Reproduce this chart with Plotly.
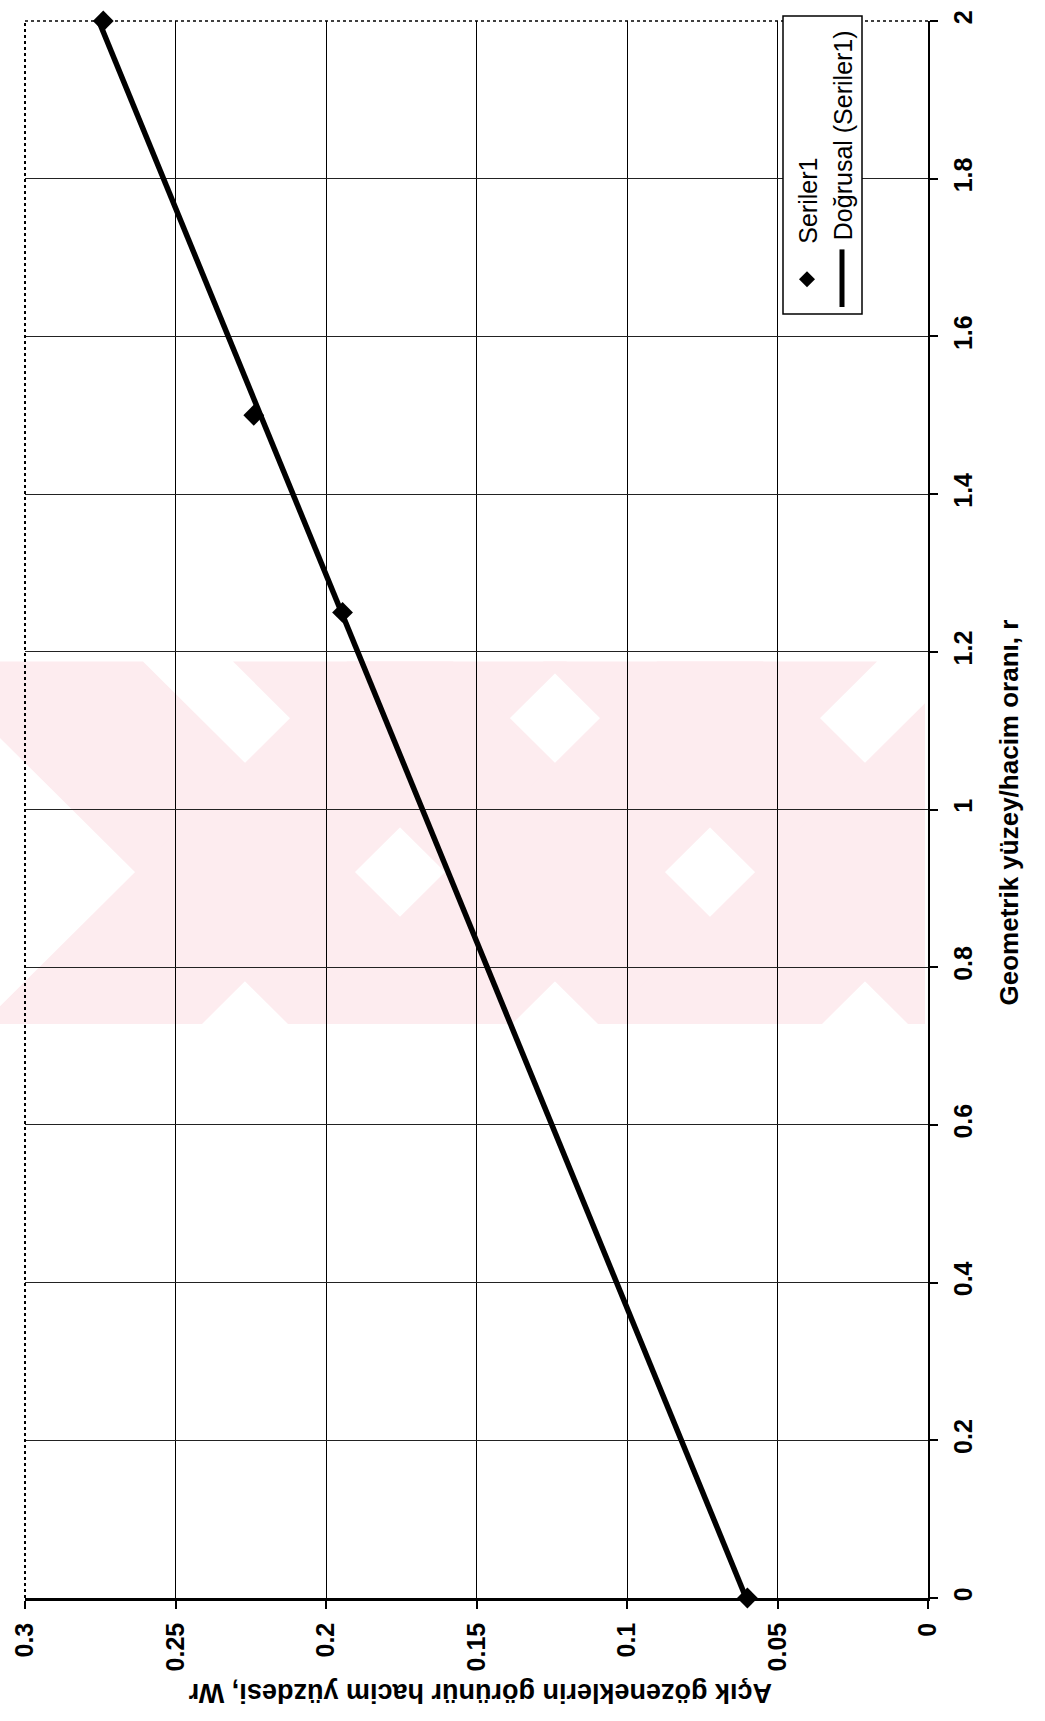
import numpy as np
import plotly.graph_objects as go

# ---- data ----
r_values = [0.0, 1.25, 1.5, 2.0]          # Geometrik yüzey/hacim oranı, r
wr_values = [0.060, 0.1945, 0.224, 0.274]  # Açık gözeneklerin görünür hacim yüzdesi, Wr
wr_tickvals = [0, 0.05, 0.1, 0.15, 0.2, 0.25, 0.3]
wr_ticktext = ["0", "0.05", "0.1", "0.15", "0.2", "0.25", "0.3"]
r_tickvals = [0, 0.2, 0.4, 0.6, 0.8, 1.0, 1.2, 1.4, 1.6, 1.8, 2.0]
r_ticktext = ["0", "0.2", "0.4", "0.6", "0.8", "1", "1.2", "1.4", "1.6", "1.8", "2"]
series_name = "Seriler1"
trend_name = "Doğrusal (Seriler1)"
x_title = "Açık gözeneklerin görünür hacim yüzdesi, Wr"
y_title = "Geometrik yüzey/hacim oranı, r"

# ---- layout geometry (page pixels; body margin removed by post_script) ----
W, H = 1045, 1721
L, R, T, B = 25, 928, 10, 1598


def px(X):
    return (X - L) / (R - L)


def py(Y):
    return (B - Y) / (B - T)


# linear trend (Excel "Doğrusal")
slope, intercept = np.polyfit(r_values, wr_values, 1)
r_line = np.array([min(r_values), max(r_values)])
wr_line = slope * r_line + intercept

fig = go.Figure()
fig.add_trace(go.Scatter(x=wr_line, y=r_line, mode="lines",
                         line=dict(color="black", width=5.5), name=trend_name,
                         showlegend=False, cliponaxis=False))
fig.add_trace(go.Scatter(x=wr_values, y=r_values, mode="markers",
                         marker=dict(symbol="diamond", size=16, color="black"),
                         name=series_name, showlegend=False, cliponaxis=False))

shapes = []

# ---- pale watermark (decorative) ----
PINK = "#fdecef"
band_top, band_bot = 655, 1020
cy, h = 867, 110
centers = [245, 555, 865]
clip_right = 925


def clip_poly(pts, xmax):
    out = []
    n = len(pts)
    for i in range(n):
        a = pts[i]
        b = pts[(i + 1) % n]
        ina = a[0] <= xmax
        inb = b[0] <= xmax
        if ina:
            out.append(a)
        if ina != inb:
            t = (xmax - a[0]) / (b[0] - a[0])
            out.append((xmax, a[1] + t * (b[1] - a[1])))
    return out


for cx in centers:
    dt = band_top - cy
    db = band_bot - cy
    back = [(cx + dt - h, band_top), (cx + dt + h, band_top),
            (cx + db + h, band_bot), (cx + db - h, band_bot)]
    fwd = [(cx - dt - h, band_top), (cx - dt + h, band_top),
           (cx - db + h, band_bot), (cx - db - h, band_bot)]
    for poly in (back, fwd):
        cp = clip_poly(poly, clip_right)
        if len(cp) < 3:
            continue
        path = "M " + " L ".join(f"{px(x):.5f},{py(y):.5f}" for x, y in cp) + " Z"
        shapes.append(dict(type="path", xref="paper", yref="paper", path=path,
                           fillcolor=PINK, line=dict(width=0), layer="below"))

# plot borders (dotted left & top)
shapes.append(dict(type="line", xref="paper", yref="paper", x0=0, x1=0, y0=0, y1=1,
                   line=dict(color="black", width=2, dash="dot")))
shapes.append(dict(type="line", xref="paper", yref="paper", x0=0, x1=1, y0=1, y1=1,
                   line=dict(color="black", width=1.5, dash="dot")))

# legend box
lx0, lx1, ly0, ly1 = 783, 862, 5, 305
shapes.append(dict(type="rect", xref="paper", yref="paper",
                   x0=px(lx0), x1=px(lx1), y0=py(ly1), y1=py(ly0),
                   fillcolor="white", line=dict(color="black", width=1.5)))
# legend marker diamond
dcx, dcy, ds = 807, 270, 8
shapes.append(dict(type="path", xref="paper", yref="paper",
                   path=(f"M {px(dcx):.5f},{py(dcy - ds):.5f} L {px(dcx + ds):.5f},{py(dcy):.5f} "
                         f"L {px(dcx):.5f},{py(dcy + ds):.5f} L {px(dcx - ds):.5f},{py(dcy):.5f} Z"),
                   fillcolor="black", line=dict(width=0)))
# legend line sample
shapes.append(dict(type="line", xref="paper", yref="paper",
                   x0=px(842), x1=px(842), y0=py(298), y1=py(240),
                   line=dict(color="black", width=5)))

FONT = "Arial, Liberation Sans, sans-serif"
annotations = [
    dict(text=series_name, xref="paper", yref="paper", x=px(808), y=py(191),
         xanchor="center", yanchor="middle", textangle=-90, showarrow=False,
         font=dict(family=FONT, size=25, color="black")),
    dict(text=trend_name, xref="paper", yref="paper", x=px(843), y=py(125),
         xanchor="center", yanchor="middle", textangle=-90, showarrow=False,
         font=dict(family=FONT, size=25, color="black")),
    dict(text=f"<b>{x_title}</b>", xref="paper", yref="paper", x=px(480), y=py(1693),
         xanchor="center", yanchor="middle", textangle=180, showarrow=False,
         font=dict(family=FONT, size=27, color="black")),
    dict(text=f"<b>{y_title}</b>", xref="paper", yref="paper", x=px(1009), y=py(807),
         xanchor="center", yanchor="middle", textangle=-90, showarrow=False,
         font=dict(family=FONT, size=26, color="black")),
]

fig.update_layout(
    width=W, height=H,
    margin=dict(l=L, r=W - R, t=T, b=H - B, pad=0),
    paper_bgcolor="white", plot_bgcolor="rgba(0,0,0,0)",
    showlegend=False,
    shapes=shapes, annotations=annotations,
    xaxis=dict(range=[0.3, 0], tickvals=wr_tickvals, ticktext=wr_ticktext,
               tickangle=-90, ticks="outside", ticklen=8, tickwidth=1.5, tickcolor="black",
               showline=True, linewidth=2.5, linecolor="black",
               showgrid=True, gridcolor="black", gridwidth=1.3, zeroline=False,
               ticklabelstandoff=4, ticklabeloverflow="allow",
               tickfont=dict(family=FONT, size=25, color="black", weight="bold")),
    yaxis=dict(range=[0, 2], side="right", tickvals=r_tickvals, ticktext=r_ticktext,
               tickangle=-90, ticks="outside", ticklen=8, tickwidth=1.5, tickcolor="black",
               showline=True, linewidth=2, linecolor="black",
               showgrid=True, gridcolor="#222", gridwidth=1, zeroline=False,
               ticklabelstandoff=4, ticklabeloverflow="allow",
               tickfont=dict(family=FONT, size=25, color="black", weight="bold")),
)

fig.write_html("out.html",
               config={"displayModeBar": False},
               post_script="document.body.style.margin='0';document.body.style.padding='0';")
